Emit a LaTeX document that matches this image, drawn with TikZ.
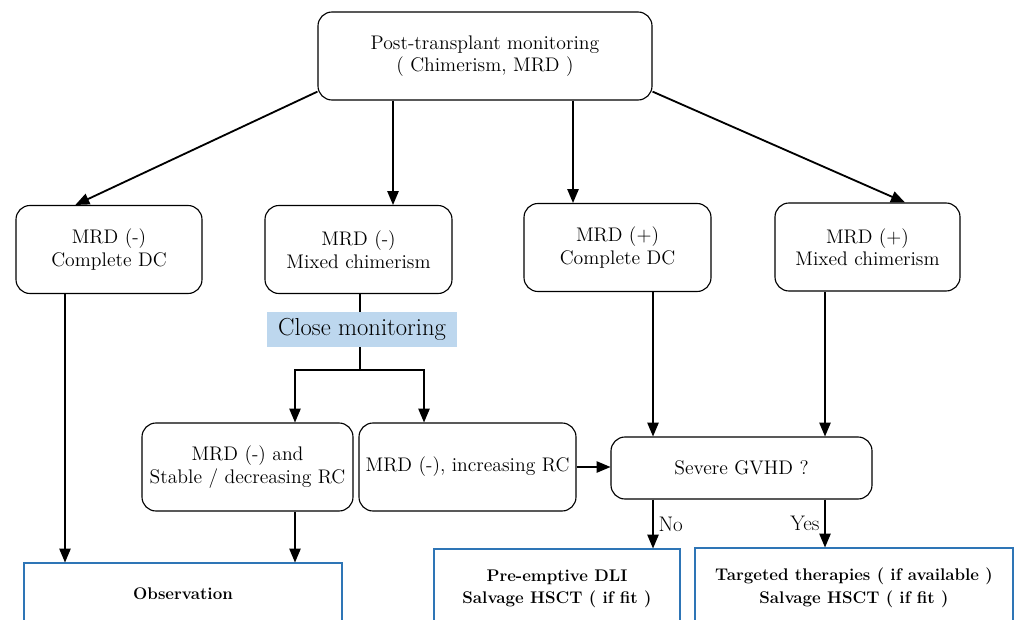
\documentclass[tikz,border=0pt]{standalone}
\usepackage{fontspec}
\usepackage{tikz}
\usetikzlibrary{positioning, arrows, calc}
\definecolor{boxblue}{RGB}{46,117,182}
\definecolor{lightblue}{RGB}{189,215,238}

\begin{document}
\begin{tikzpicture}
		\tikzstyle{box} = [draw, thick, rounded corners=0.35cm, text centered, align=center, inner sep=0, font=\fontsize{14}{16}\selectfont]
		\tikzstyle{outbox} = [draw=boxblue, thick, text centered, align=center, inner sep=0, font=\fontsize{12}{16}\selectfont\bfseries]
		\tikzstyle{tag} = [fill=lightblue, inner sep=0, font=\fontsize{17.5}{20}\selectfont]
		\tikzstyle{tri} = [-triangle 45, line width=1.3pt]
		\tikzstyle{line} = [line width=1.3pt]
		\useasboundingbox (0,0) rectangle (25.35,-15.475);
		\node [box, minimum width=8.35cm, minimum height=2.2cm] (mon) at (12.125,-1.4) {Post-transplant monitoring\\( Chimerism, MRD )};
		\node [box, minimum width=4.65cm, minimum height=2.2cm] (b1) at (2.725,-6.2375) {MRD (-)\\Complete DC};
		\node [box, minimum width=4.675cm, minimum height=2.2cm] (b2) at (8.9625,-6.2375) {MRD (-)\\Mixed chimerism};
		\node [box, minimum width=4.675cm, minimum height=2.2cm] (b3) at (15.4375,-6.1875) {MRD (+)\\Complete DC};
		\node [box, minimum width=4.625cm, minimum height=2.2cm] (b4) at (21.6875,-6.175) {MRD (+)\\Mixed chimerism};
		\node [tag, minimum width=4.75cm, minimum height=0.875cm] (close) at (9.05,-8.2375) {Close monitoring};
		\node [box, minimum width=5.275cm, minimum height=2.2cm] (b5) at (6.1875,-11.675) {MRD (-) and\\Stable / decreasing RC};
		\node [box, minimum width=5.425cm, minimum height=2.2cm] (b6) at (11.6875,-11.675) {MRD (-), increasing RC};
		\node [box, minimum width=6.525cm, minimum height=1.55cm] (b7) at (18.5375,-11.7) {Severe GVHD ?};
		\node [outbox, minimum width=7.95cm, minimum height=1.55cm] (obs) at (4.575,-14.85) {Observation};
		\node [outbox, minimum width=6.15cm, minimum height=2cm] (dli) at (13.925,-14.725) {Pre-emptive DLI\\Salvage HSCT ( if fit )};
		\node [outbox, minimum width=7.95cm, minimum height=2cm] (tgt) at (21.35,-14.7) {Targeted therapies ( if available )\\Salvage HSCT ( if fit )};
		\coordinate (ca) at (1.625,0);
		\coordinate (cb) at (9.825,0);
		\coordinate (cc) at (14.325,0);
		\coordinate (cd) at (9.0,0);
		\coordinate (ce) at (7.375,0);
		\coordinate (cf) at (10.6,0);
		\coordinate (cg) at (16.325,0);
		\coordinate (ch) at (20.625,0);
		\coordinate (split) at (9.0,-9.25);
		\draw [tri] (mon.192) -- (b1.127);
		\draw [tri] (mon.south -| cb) -- (b2.north -| cb);
		\draw [tri] (mon.south -| cc) -- (b3.north -| cc);
		\draw [tri] (mon.-12) -- (b4.50);
		\draw [line] (b2.south -| cd) -- (close.north -| cd);
		\draw [line] (close.south -| cd) -- (split);
		\draw [tri] (split) -| (b5.north -| ce);
		\draw [tri] (split) -| (b6.north -| cf);
		\draw [tri] (b1.south -| ca) -- (obs.north -| ca);
		\draw [tri] (b5.south -| ce) -- (obs.north -| ce);
		\draw [tri] (b6.east) -- (b6.east -| b7.west);
		\draw [tri] (b3.south -| cg) -- (b7.north -| cg);
		\draw [tri] (b4.south -| ch) -- (b7.north -| ch);
		\draw [tri] (b7.south -| cg) -- node [right, font=\fontsize{15}{17}\selectfont] {No} (dli.north -| cg);
		\draw [tri] (b7.south -| ch) -- node [left, font=\fontsize{15}{17}\selectfont] {Yes} (tgt.north -| ch);
\end{tikzpicture}
\end{document}
